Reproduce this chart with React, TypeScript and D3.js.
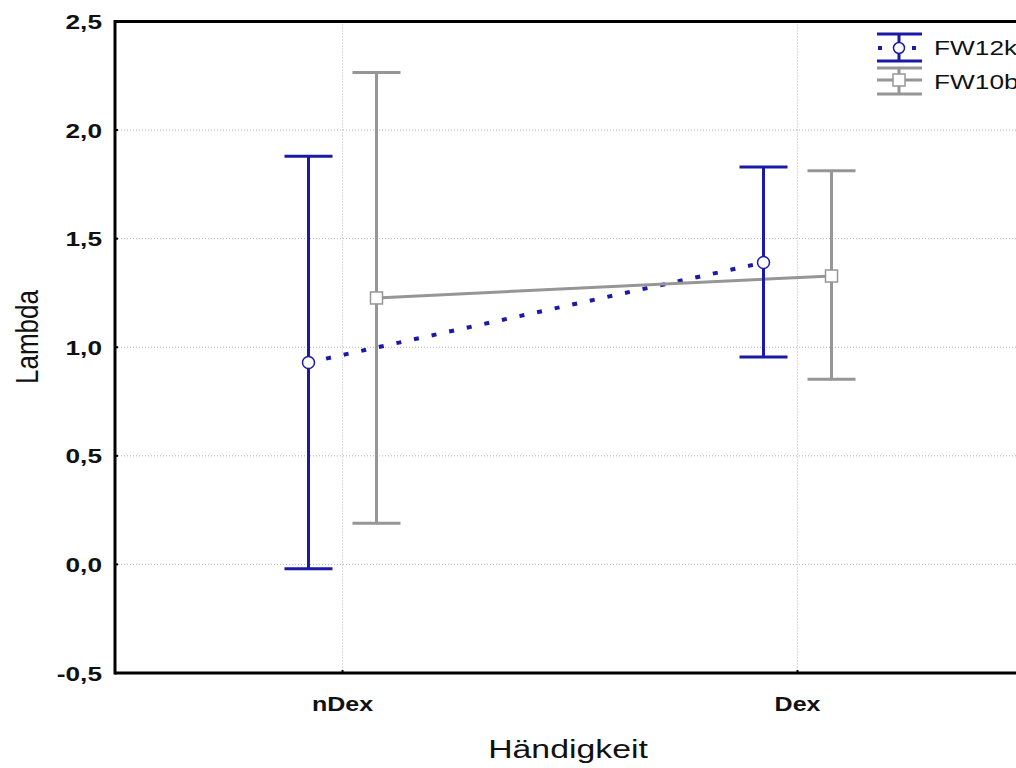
import React from "react";
import * as d3 from "d3";

const categories = ["nDex", "Dex"];
const fw12kMean = [0.93, 1.39];
const fw12kUpper = [1.88, 1.83];
const fw12kLower = [-0.02, 0.955];
const fw10bMean = [1.227, 1.328];
const fw10bUpper = [2.265, 1.813];
const fw10bLower = [0.19, 0.853];
const yTicks = [-0.5, 0, 0.5, 1.0, 1.5, 2.0, 2.5];
const seriesNames = ["FW12k", "FW10b"];

const W = 1016;
const H = 768;
const left = 115;
const right = 1025;
const top = 21.5;
const bottom = 673;

const BLUE = "#1a1aa6";
const GRAY = "#969696";
const SX = 1.25;

export default function App() {
  const y = d3.scaleLinear().domain([-0.5, 2.5]).range([bottom, top]);
  const x = d3.scaleBand<string>().domain(categories).range([left, right]).padding(0);
  const cx = (c: string) => (x(c) as number) + x.bandwidth() / 2;
  const off = 34;
  const capHalf = 24;

  const series = [
    { name: seriesNames[0], mean: fw12kMean, up: fw12kUpper, lo: fw12kLower, color: BLUE, dx: -off, marker: "circle", dash: "5 13" },
    { name: seriesNames[1], mean: fw10bMean, up: fw10bUpper, lo: fw10bLower, color: GRAY, dx: off, marker: "square", dash: null },
  ];

  const fmt = (v: number) => d3.format(".1f")(v).replace(".", ",").replace("−", "-");
  const line = d3.line<[number, number]>().x((d) => d[0]).y((d) => d[1]);

  return (
    <svg width={W} height={H} style={{ position: "absolute", left: 0, top: 0, background: "#fff" }} fontFamily="Arial, Liberation Sans, sans-serif">
      <rect x={0} y={0} width={W} height={H} fill="#fff" />
      {/* grid */}
      {yTicks.filter((t) => t > -0.5 && t < 2.5).map((t) => (
        <line key={"gy" + t} x1={left} x2={W} y1={y(t)} y2={y(t)} stroke="#b4b4b4" strokeWidth={1} strokeDasharray="1 2" />
      ))}
      {categories.map((c) => (
        <line key={"gx" + c} x1={cx(c)} x2={cx(c)} y1={top} y2={bottom} stroke="#b4b4b4" strokeWidth={1} strokeDasharray="1 2" />
      ))}
      {/* series lines */}
      {series.map((s) => (
        <path
          key={"l" + s.name}
          d={line(categories.map((c, i) => [cx(c) + s.dx, y(s.mean[i])] as [number, number])) || ""}
          fill="none"
          stroke={s.color}
          strokeWidth={s.dash ? 4 : 3}
          strokeDasharray={s.dash || undefined}
        />
      ))}
      {/* error bars */}
      {series.map((s) =>
        categories.map((c, i) => {
          const px = cx(c) + s.dx;
          return (
            <g key={"e" + s.name + c} stroke={s.color} strokeWidth={3}>
              <line x1={px} x2={px} y1={y(s.up[i])} y2={y(s.lo[i])} />
              <line x1={px - capHalf} x2={px + capHalf} y1={y(s.up[i])} y2={y(s.up[i])} />
              <line x1={px - capHalf} x2={px + capHalf} y1={y(s.lo[i])} y2={y(s.lo[i])} />
            </g>
          );
        })
      )}
      {/* markers */}
      {series.map((s) =>
        categories.map((c, i) => {
          const px = cx(c) + s.dx;
          const py = y(s.mean[i]);
          return s.marker === "circle" ? (
            <circle key={"m" + s.name + c} cx={px} cy={py} r={6} fill="#fff" stroke={s.color} strokeWidth={1.5} />
          ) : (
            <rect key={"m" + s.name + c} x={px - 6} y={py - 6} width={12} height={12} fill="#fff" stroke={s.color} strokeWidth={1.5} />
          );
        })
      )}
      {/* axes frame */}
      <line x1={left} x2={left} y1={top - 1.5} y2={bottom + 1.5} stroke="#000" strokeWidth={3} />
      <line x1={left} x2={W} y1={bottom} y2={bottom} stroke="#000" strokeWidth={3} />
      <line x1={left} x2={W} y1={top} y2={top} stroke="#000" strokeWidth={3} />
      {/* y ticks */}
      {yTicks.map((t) => (
        <g key={"yt" + t}>
          <line x1={left} x2={left + 3} y1={y(t)} y2={y(t)} stroke="#000" strokeWidth={2} />
          <text transform={`translate(102, ${y(t)}) scale(${SX}, 1)`} dy="0.36em" textAnchor="end" fontWeight="bold" fontSize={21} fill="#111">
            {fmt(t)}
          </text>
        </g>
      ))}
      {/* x ticks */}
      {categories.map((c) => (
        <g key={"xt" + c}>
          <line x1={cx(c)} x2={cx(c)} y1={bottom} y2={bottom - 3} stroke="#000" strokeWidth={2} />
          <text transform={`translate(${cx(c)}, 711) scale(${SX}, 1)`} textAnchor="middle" fontWeight="bold" fontSize={20} fill="#111">
            {c}
          </text>
        </g>
      ))}
      {/* axis titles */}
      <text transform={`translate(568, 758) scale(1.3, 1)`} textAnchor="middle" fontSize={26} fill="#111">Händigkeit</text>
      <text transform={`translate(38, 337) rotate(-90) scale(1, 1.2)`} textAnchor="middle" fontSize={26} fill="#111">Lambda</text>
      {/* legend */}
      <g>
        <g stroke={BLUE} strokeWidth={3}>
          <line x1={877} x2={922} y1={34} y2={34} />
          <line x1={877} x2={922} y1={61} y2={61} />
          <line x1={899} x2={899} y1={34} y2={61} />
          <line x1={878} x2={920} y1={48} y2={48} strokeWidth={4} strokeDasharray="4 13" />
        </g>
        <circle cx={899} cy={48} r={5.5} fill="#fff" stroke={BLUE} strokeWidth={1.5} />
        <text transform={`translate(934, 55) scale(${SX}, 1)`} fontSize={21} fill="#111">{seriesNames[0]}</text>
        <g stroke={GRAY} strokeWidth={3}>
          <line x1={877} x2={922} y1={68} y2={68} />
          <line x1={877} x2={922} y1={94} y2={94} />
          <line x1={899} x2={899} y1={68} y2={94} />
          <line x1={877} x2={922} y1={80} y2={80} />
        </g>
        <rect x={893} y={74} width={12} height={12} fill="#fff" stroke={GRAY} strokeWidth={1.5} />
        <text transform={`translate(934, 89) scale(${SX}, 1)`} fontSize={21} fill="#111">{seriesNames[1]}</text>
      </g>
    </svg>
  );
}
